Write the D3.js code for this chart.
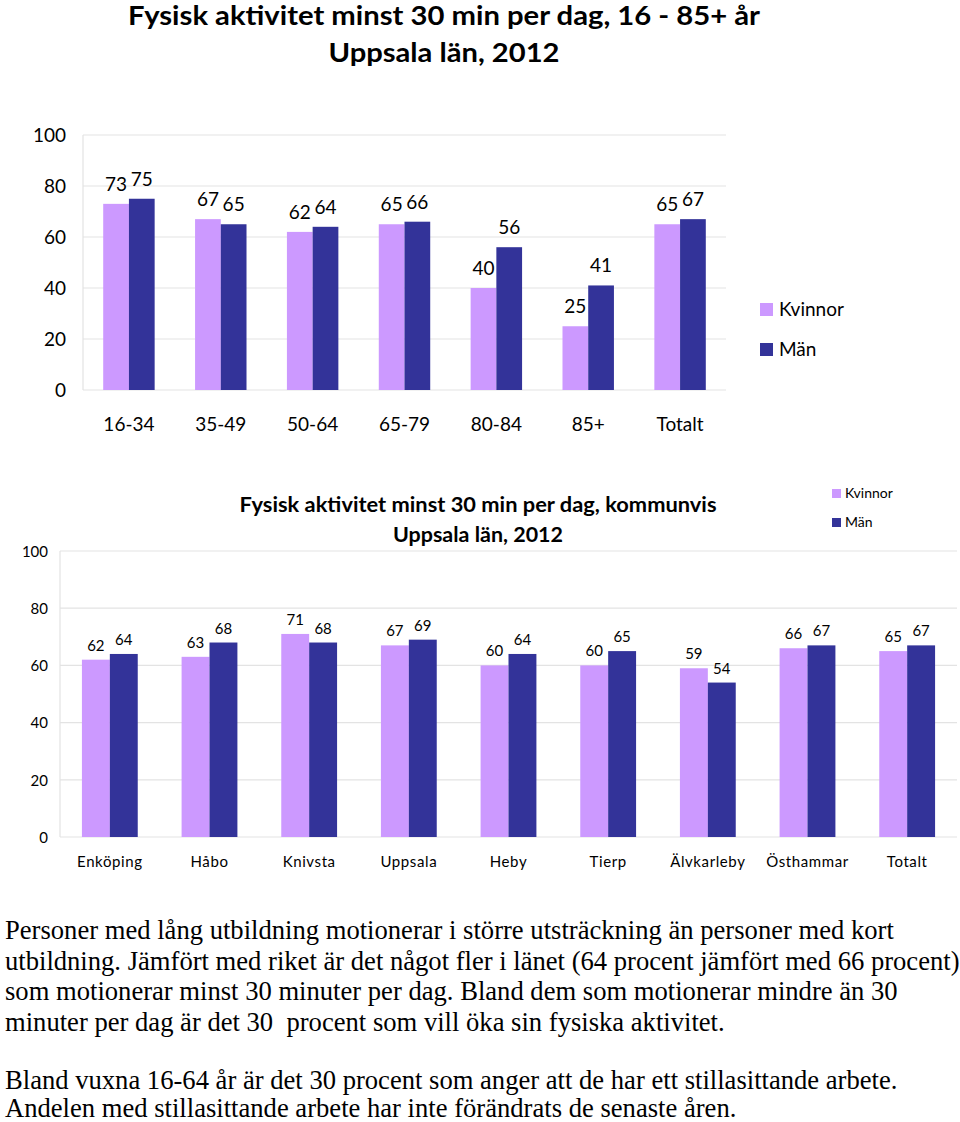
<!DOCTYPE html>
<html><head><meta charset="utf-8">
<script src="https://cdn.jsdelivr.net/npm/d3@7"></script>
<style>
html,body{margin:0;padding:0;background:#fff;}
svg{display:block;}
text.para{white-space:pre;}
</style></head>
<body>
<svg id="c" width="960" height="1122"></svg>
<script>
// ---------- data ----------
const ageGroups = ["16-34","35-49","50-64","65-79","80-84","85+","Totalt"];
const ageKvinnor = [73,67,62,65,40,25,65];
const ageMan     = [75,65,64,66,56,41,67];

const kommuner = ["Enköping","Håbo","Knivsta","Uppsala","Heby","Tierp","Älvkarleby","Östhammar","Totalt"];
const komKvinnor = [62,63,71,67,60,60,59,66,65];
const komMan     = [64,68,68,69,64,65,54,67,67];

const seriesNames = ["Kvinnor","Män"];
const yTicks = [0,20,40,60,80,100];

const title1 = ["Fysisk aktivitet minst 30 min per dag, 16 - 85+ år","Uppsala län, 2012"];
const title2 = ["Fysisk aktivitet minst 30 min per dag, kommunvis","Uppsala län, 2012"];

const paragraph = [
 "Personer med lång utbildning motionerar i större utsträckning än personer med kort",
 "utbildning. Jämfört med riket är det något fler i länet (64 procent jämfört med 66 procent)",
 "som motionerar minst 30 minuter per dag. Bland dem som motionerar mindre än 30",
 "minuter per dag är det 30  procent som vill öka sin fysiska aktivitet.",
 "",
 "Bland vuxna 16-64 år är det 30 procent som anger att de har ett stillasittande arbete.",
 "Andelen med stillasittande arbete har inte förändrats de senaste åren."
];

// ---------- style ----------
const colors = ["#cc99ff","#333399"];
const sans = "Lato, 'Open Sans', sans-serif";
const grid = "#e3e3e3";

const svg = d3.select("#c");

function fit(sel, w){ sel.attr("textLength", w).attr("lengthAdjust","spacingAndGlyphs"); return sel; }

function barChart(cfg){
  const g = svg.append("g");
  const x = d3.scaleBand().domain(cfg.cats).range([cfg.x0, cfg.x1]).paddingInner(0).paddingOuter(0);
  const y = d3.scaleLinear().domain([0,100]).range([cfg.yb, cfg.yt]);
  const bw = x.bandwidth()*0.28;
  g.selectAll("line.grid").data(yTicks).join("line")
    .attr("x1", cfg.x0).attr("x2", cfg.x1)
    .attr("y1", d=>y(d)).attr("y2", d=>y(d))
    .attr("stroke", grid).attr("stroke-width",1.2);
  g.append("line").attr("x1",cfg.x0).attr("x2",cfg.x0).attr("y1",y(0)).attr("y2",y(100))
    .attr("stroke",grid).attr("stroke-width",1.2);
  const yAxis = d3.axisLeft(y).tickValues(yTicks).tickSize(0).tickPadding(0);
  const ya = g.append("g").attr("transform",`translate(${cfg.ylabX},0)`).call(yAxis);
  ya.select(".domain").remove();
  ya.selectAll("text").attr("font-family",sans).attr("font-size",cfg.fs).attr("fill","#000")
    .attr("dy", cfg.ydy);
  const xAxis = d3.axisBottom(x).tickSize(0).tickPadding(0);
  const xa = g.append("g").attr("transform",`translate(0,${cfg.xlabY})`).call(xAxis);
  xa.select(".domain").remove();
  xa.selectAll("text").attr("font-family",sans).attr("font-size",cfg.fs).attr("fill","#000")
    .attr("dy","0").attr("letter-spacing", cfg.ls||0);
  const series = [cfg.kv, cfg.man];
  series.forEach((vals,si)=>{
    const data = cfg.cats.map((c,i)=>({c, v: vals[i]}));
    g.selectAll(null).data(data).join("rect")
      .attr("x", d=> x(d.c) + x.bandwidth()/2 - bw + si*bw)
      .attr("y", d=> y(d.v)).attr("width", bw).attr("height", d=> y(0)-y(d.v))
      .attr("fill", colors[si]);
    g.selectAll(null).data(data).join("text")
      .attr("x", d=> x(d.c) + x.bandwidth()/2 - bw/2 + si*bw)
      .attr("y", d=> y(d.v) - cfg.lblGap)
      .attr("text-anchor","middle").attr("font-family",sans).attr("font-size",cfg.fs)
      .attr("fill","#000").text(d=>d.v);
  });
  seriesNames.forEach((n,i)=>{
    g.append("rect").attr("x",cfg.legX).attr("y",cfg.legY + i*cfg.legStep)
      .attr("width",cfg.legSq).attr("height",cfg.legSq).attr("fill",colors[i]);
    g.append("text").attr("x",cfg.legX+cfg.legSq+cfg.legPad).attr("y",cfg.legY + i*cfg.legStep + cfg.legSq)
      .attr("font-family",sans).attr("font-size",cfg.legFs).attr("fill","#000").text(n);
  });
  cfg.title.forEach((t,i)=>{
    const tt = g.append("text").attr("x",cfg.titleX).attr("y",cfg.titleY[i]).attr("text-anchor","middle")
      .attr("font-family",sans).attr("font-weight","bold").attr("font-size",cfg.titleFs).attr("fill","#000").text(t);
    fit(tt, cfg.titleW[i]);
  });
}

barChart({cats: ageGroups, kv: ageKvinnor, man: ageMan,
  x0:83, x1:726, yb:390, yt:135, ylabX:66, ydy:"0.35em", xlabY:431, fs:19, lblGap:13,
  legX:760, legY:303, legStep:40, legSq:13, legPad:6, legFs:19,
  title:title1, titleX:444, titleY:[25,62], titleFs:26, titleW:[632,231]});

barChart({cats: kommuner, kv: komKvinnor, man: komMan,
  x0:60, x1:957, yb:837, yt:551, ylabX:48, ydy:"0.35em", xlabY:867, fs:15, lblGap:9, ls:0.6,
  legX:832, legY:489, legStep:29, legSq:9, legPad:4, legFs:14,
  title:title2, titleX:478, titleY:[512,542], titleFs:20, titleW:[477,170]});

const baselines = [939,970,1000,1031,null,1089,1117];
paragraph.forEach((t,i)=>{
  if(!t) return;
  svg.append("text").attr("x",5).attr("y",baselines[i])
    .attr("font-family","'Liberation Serif','Times New Roman',serif").attr("font-size",27)
    .attr("fill","#000").attr("class","para").attr("xml:space","preserve").text(t);
});
const ref = svg.selectAll("text.para").filter((d,i)=>i===1).node();
if(ref){
  const w = ref.getComputedTextLength();
  const s = 955 / w;
  svg.selectAll("text.para").each(function(){
    d3.select(this).attr("transform",`translate(5,0) scale(${s},1) translate(-5,0)`);
  });
}
</script>
</body></html>
